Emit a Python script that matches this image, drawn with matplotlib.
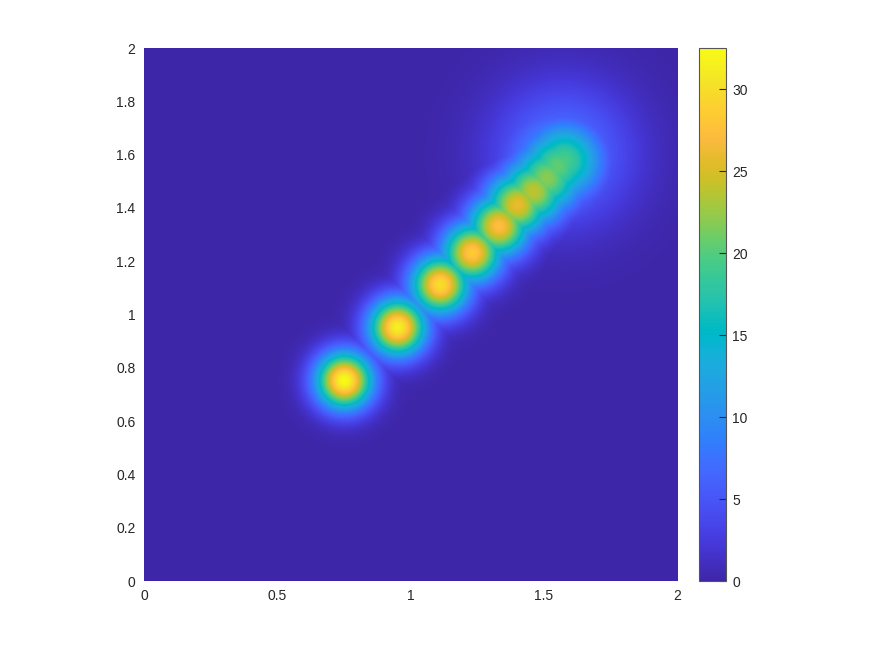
import numpy as np
import matplotlib.pyplot as plt
from matplotlib.colors import LinearSegmentedColormap

plt.rcParams['font.family'] = ['Liberation Sans', 'DejaVu Sans']

# blob path (x == y along the diagonal)
centre_x = [0.75, 0.95, 1.11, 1.23, 1.33, 1.40, 1.46, 1.51, 1.55, 1.575, 1.55, 1.57]
centre_y = [0.75, 0.95, 1.11, 1.23, 1.33, 1.41, 1.46, 1.51, 1.555, 1.575, 1.57, 1.60]
peak = [32.5, 31.5, 30.0, 28.5, 27.5, 26.0, 24.0, 22.0, 20.5, 19.5, 12.0, 8.0]
width = [0.075, 0.076, 0.078, 0.080, 0.083, 0.087, 0.092, 0.097, 0.102, 0.106, 0.140, 0.180]

axis_ticks = [0, 0.2, 0.4, 0.6, 0.8, 1, 1.2, 1.4, 1.6, 1.8, 2]
x_ticks = [0, 0.5, 1, 1.5, 2]
cbar_ticks = [0, 5, 10, 15, 20, 25, 30]

# matlab parula (R2017a), 64 steps
parula_rgb = [
    [0.2422, 0.1504, 0.6603], [0.2504, 0.1650, 0.7076], [0.2578, 0.1818, 0.7511], [0.2647, 0.1978, 0.7952],
    [0.2706, 0.2147, 0.8364], [0.2751, 0.2342, 0.8710], [0.2783, 0.2559, 0.8991], [0.2803, 0.2782, 0.9221],
    [0.2813, 0.3006, 0.9414], [0.2810, 0.3228, 0.9579], [0.2795, 0.3447, 0.9717], [0.2760, 0.3667, 0.9829],
    [0.2699, 0.3892, 0.9906], [0.2602, 0.4123, 0.9952], [0.2440, 0.4358, 0.9988], [0.2206, 0.4603, 0.9973],
    [0.1963, 0.4847, 0.9892], [0.1834, 0.5074, 0.9798], [0.1786, 0.5289, 0.9682], [0.1764, 0.5499, 0.9520],
    [0.1687, 0.5703, 0.9359], [0.1540, 0.5902, 0.9218], [0.1460, 0.6091, 0.9079], [0.1380, 0.6276, 0.8973],
    [0.1248, 0.6459, 0.8883], [0.1113, 0.6635, 0.8763], [0.0952, 0.6798, 0.8598], [0.0689, 0.6948, 0.8394],
    [0.0297, 0.7082, 0.8163], [0.0036, 0.7203, 0.7917], [0.0067, 0.7312, 0.7660], [0.0433, 0.7411, 0.7394],
    [0.0964, 0.7500, 0.7120], [0.1408, 0.7584, 0.6842], [0.1717, 0.7670, 0.6554], [0.1938, 0.7758, 0.6251],
    [0.2161, 0.7843, 0.5923], [0.2470, 0.7918, 0.5567], [0.2906, 0.7973, 0.5188], [0.3406, 0.8008, 0.4789],
    [0.3909, 0.8029, 0.4354], [0.4456, 0.8024, 0.3909], [0.5044, 0.7993, 0.3480], [0.5616, 0.7942, 0.3045],
    [0.6174, 0.7876, 0.2612], [0.6720, 0.7793, 0.2227], [0.7242, 0.7698, 0.1910], [0.7738, 0.7598, 0.1646],
    [0.8203, 0.7498, 0.1535], [0.8634, 0.7406, 0.1596], [0.9035, 0.7330, 0.1774], [0.9393, 0.7288, 0.2100],
    [0.9728, 0.7298, 0.2394], [0.9956, 0.7434, 0.2371], [0.9970, 0.7659, 0.2199], [0.9952, 0.7893, 0.2028],
    [0.9892, 0.8136, 0.1885], [0.9786, 0.8386, 0.1766], [0.9676, 0.8639, 0.1643], [0.9610, 0.8890, 0.1537],
    [0.9597, 0.9135, 0.1423], [0.9628, 0.9373, 0.1265], [0.9691, 0.9606, 0.1064], [0.9769, 0.9839, 0.0805],
]
parula = LinearSegmentedColormap.from_list('parula', parula_rgb, N=256)

grid = np.linspace(0, 2, 500)
X, Y = np.meshgrid(grid, grid)
field = np.zeros_like(X)
for cx, cy, a, s in zip(centre_x, centre_y, peak, width):
    blob = a * np.exp(-((X - cx) ** 2 + (Y - cy) ** 2) / (2 * s ** 2))
    field = np.maximum(field, blob)

fig = plt.figure(figsize=(8.72, 6.54), dpi=100)
ax = fig.add_axes([0.165, 0.1116, 0.6113, 0.815])
im = ax.imshow(field, origin='lower', extent=[0, 2, 0, 2], cmap=parula,
               vmin=0, vmax=max(peak), interpolation='bilinear', aspect='auto')
ax.set_xlim(0, 2)
ax.set_ylim(0, 2)
ax.set_xticks(x_ticks)
ax.set_xticklabels(['0', '0.5', '1', '1.5', '2'])
ax.set_yticks(axis_ticks)
ax.set_yticklabels(['0', '0.2', '0.4', '0.6', '0.8', '1', '1.2', '1.4', '1.6', '1.8', '2'])
ax.tick_params(length=0, labelsize=10, pad=6, colors='#262626')
for sp in ax.spines.values():
    sp.set_visible(False)

cax = fig.add_axes([0.802, 0.1116, 0.030, 0.815])
cb = fig.colorbar(im, cax=cax)
cb.set_ticks(cbar_ticks)
cax.tick_params(direction='in', length=5, width=0.8, labelsize=10, pad=5, colors='#262626')
cb.outline.set_edgecolor('#555555')
cb.outline.set_linewidth(0.8)

fig.savefig('out.png', dpi=100)
